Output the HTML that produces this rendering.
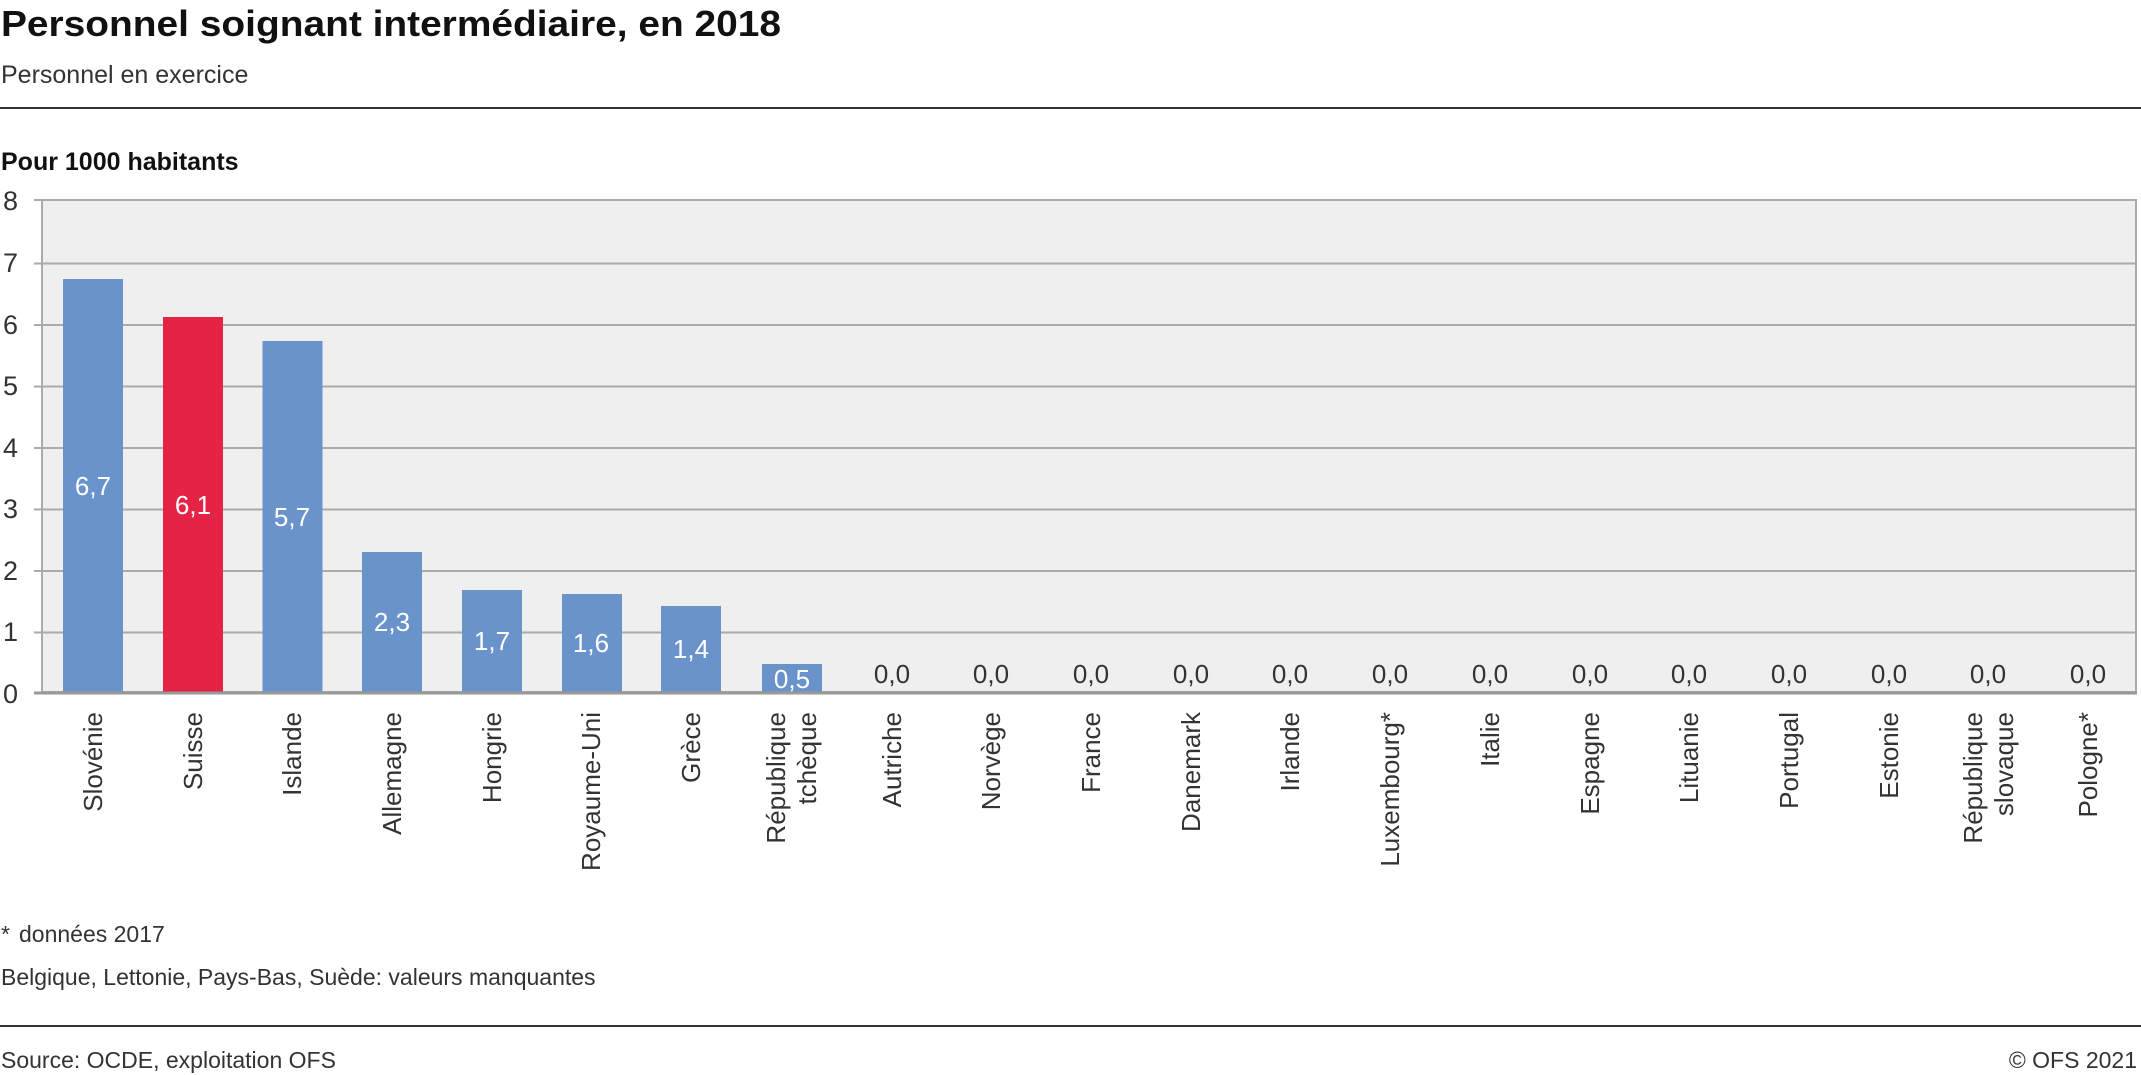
<!DOCTYPE html>
<html><head><meta charset="utf-8"><style>
html,body{margin:0;padding:0;background:#fff;}
svg{display:block;}
text{font-family:"Liberation Sans",sans-serif;}
</style></head><body>
<svg width="2141" height="1075" viewBox="0 0 2141 1075" xmlns="http://www.w3.org/2000/svg">
<text x="1" y="36" font-size="36" font-weight="bold" fill="#111" textLength="780" lengthAdjust="spacingAndGlyphs">Personnel soignant intermédiaire, en 2018</text>
<text x="1" y="83" font-size="25" fill="#333">Personnel en exercice</text>
<rect x="0" y="107" width="2141" height="2" fill="#333"/>
<text x="1" y="170" font-size="25" font-weight="bold" fill="#111">Pour 1000 habitants</text>
<rect x="42" y="200" width="2094" height="492" fill="#efefef" stroke="#aaa" stroke-width="2"/>
<g stroke="#aaa" stroke-width="2">
<line x1="34" y1="200" x2="2136" y2="200"/>
<line x1="34" y1="263.5" x2="2136" y2="263.5"/>
<line x1="34" y1="325" x2="2136" y2="325"/>
<line x1="34" y1="386.5" x2="2136" y2="386.5"/>
<line x1="34" y1="448" x2="2136" y2="448"/>
<line x1="34" y1="509.5" x2="2136" y2="509.5"/>
<line x1="34" y1="571" x2="2136" y2="571"/>
<line x1="34" y1="632.5" x2="2136" y2="632.5"/>
</g>
<g font-size="27" fill="#333">
<text x="3" y="210">8</text><text x="3" y="272">7</text><text x="3" y="334">6</text><text x="3" y="395">5</text><text x="3" y="457">4</text><text x="3" y="518">3</text><text x="3" y="580">2</text><text x="3" y="641">1</text><text x="3" y="703">0</text>
</g>
<g fill="#6a93cc">
<rect x="63" y="279" width="60" height="413"/>
<rect x="262.5" y="341" width="60" height="351"/>
<rect x="362" y="552" width="60" height="140"/>
<rect x="462" y="590" width="60" height="102"/>
<rect x="562" y="594" width="60" height="98"/>
<rect x="661" y="606" width="60" height="86"/>
<rect x="762" y="664" width="60" height="28"/>
</g>
<rect x="163" y="317" width="60" height="375" fill="#e52346"/>
<line x1="34" y1="693" x2="2137" y2="693" stroke="#999" stroke-width="3"/>
<g font-size="26" fill="#fff" text-anchor="middle">
<text x="93" y="495">6,7</text><text x="193" y="514">6,1</text><text x="292" y="526">5,7</text><text x="392" y="631">2,3</text><text x="492" y="650">1,7</text><text x="591" y="652">1,6</text><text x="691" y="658">1,4</text><text x="792" y="688">0,5</text>
</g>
<g font-size="26" fill="#333" text-anchor="middle">
<text x="892" y="683">0,0</text><text x="991" y="683">0,0</text><text x="1091" y="683">0,0</text><text x="1191" y="683">0,0</text><text x="1290" y="683">0,0</text><text x="1390" y="683">0,0</text><text x="1490" y="683">0,0</text><text x="1590" y="683">0,0</text><text x="1689" y="683">0,0</text><text x="1789" y="683">0,0</text><text x="1889" y="683">0,0</text><text x="1988" y="683">0,0</text><text x="2088" y="683">0,0</text>
</g>
<g font-size="26" fill="#333" text-anchor="end">
<text transform="translate(102,712) rotate(-90)">Slovénie</text>
<text transform="translate(202,712) rotate(-90)">Suisse</text>
<text transform="translate(301,712) rotate(-90)">Islande</text>
<text transform="translate(401,712) rotate(-90)">Allemagne</text>
<text transform="translate(501,712) rotate(-90)">Hongrie</text>
<text transform="translate(600,712) rotate(-90)">Royaume-Uni</text>
<text transform="translate(700,712) rotate(-90)">Grèce</text>
<text transform="translate(785,712) rotate(-90)">République</text>
<text transform="translate(816,712) rotate(-90)">tchèque</text>
<text transform="translate(901,712) rotate(-90)">Autriche</text>
<text transform="translate(1000,712) rotate(-90)">Norvège</text>
<text transform="translate(1100,712) rotate(-90)">France</text>
<text transform="translate(1200,712) rotate(-90)">Danemark</text>
<text transform="translate(1299,712) rotate(-90)">Irlande</text>
<text transform="translate(1399,712) rotate(-90)">Luxembourg*</text>
<text transform="translate(1499,712) rotate(-90)">Italie</text>
<text transform="translate(1599,712) rotate(-90)">Espagne</text>
<text transform="translate(1698,712) rotate(-90)">Lituanie</text>
<text transform="translate(1798,712) rotate(-90)">Portugal</text>
<text transform="translate(1898,712) rotate(-90)">Estonie</text>
<text transform="translate(1982,712) rotate(-90)">République</text>
<text transform="translate(2013,712) rotate(-90)">slovaque</text>
<text transform="translate(2097,712) rotate(-90)">Pologne*</text>
</g>
<g font-size="23" fill="#333">
<text x="1" y="942">*</text><text x="19" y="942">données 2017</text>
<text x="1" y="985">Belgique, Lettonie, Pays-Bas, Suède: valeurs manquantes</text>
<text x="1" y="1068">Source: OCDE, exploitation OFS</text>
<text x="2137" y="1068" text-anchor="end">© OFS 2021</text>
</g>
<rect x="0" y="1025" width="2141" height="2" fill="#333"/>
</svg>
</body></html>
